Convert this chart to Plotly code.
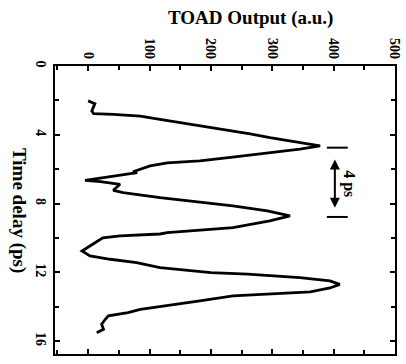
import plotly.graph_objects as go

# Time delay (ps) and TOAD output (a.u.)
time_ps = [2.03, 2.19, 2.62, 2.77, 2.81, 2.91, 3.10, 3.37, 3.66, 3.95, 4.17, 4.39, 4.65,
           4.83, 5.06, 5.29, 5.52, 5.64, 5.81, 6.01, 6.15, 6.20, 6.34, 6.45, 6.65,
           6.73, 6.88, 7.23, 7.37, 7.66, 7.91, 8.14, 8.43, 8.72,
           9.01, 9.40, 9.69, 9.77, 9.88, 9.99, 10.35, 10.76,
           11.05, 11.24, 11.44, 11.73, 12.02, 12.11, 12.31, 12.50, 12.70,
           12.91, 13.14, 13.28, 13.37, 13.66, 13.95, 14.15, 14.34, 14.53, 14.73,
           15.02, 15.31, 15.51]
toad_out = [0, 11, 6, 9, 41, 85, 117, 166, 215, 264, 296, 337, 378,
            345, 296, 239, 182, 129, 101, 85, 73, 80, 52, 36, -5,
            20, 52, 41, 57, 117, 182, 236, 292, 329,
            296, 236, 129, 117, 52, 24, 8, -10,
            3, 36, 79, 117, 200, 260, 345, 394, 410,
            394, 362, 296, 236, 182, 129, 85, 65, 33, 28,
            22, 25, 14]

x_ticks = [0, 100, 200, 300, 400, 500]
y_ticks = [0, 4, 8, 12, 16]

# "4 ps" marker annotation positions (data units)
marker_t = [4.75, 8.78]
marker_out = [389, 423]
arrow_out = 402
arrow_t = [5.35, 8.25]
label_text = "4 ps"

FONT = "Liberation Serif"

fig = go.Figure()
fig.add_trace(go.Scatter(x=toad_out, y=time_ps, mode="lines",
                         line=dict(color="black", width=2.8, shape="linear"),
                         showlegend=False, hoverinfo="skip"))

for t in marker_t:
    fig.add_shape(type="line", x0=marker_out[0], x1=marker_out[1], y0=t, y1=t,
                  xref="x", yref="y", line=dict(color="black", width=2))

fig.add_annotation(x=arrow_out, y=arrow_t[1], ax=arrow_out, ay=arrow_t[0],
                   xref="x", yref="y", axref="x", ayref="y", text="",
                   showarrow=True, arrowhead=2, arrowside="end+start",
                   arrowsize=1, arrowwidth=2, arrowcolor="black")
fig.add_annotation(x=426, y=6.85, xref="x", yref="y", text=label_text,
                   showarrow=False, textangle=90,
                   font=dict(family=FONT, size=16, color="black", weight="bold"))

fig.add_annotation(x=0.5, y=1, xref="paper", yref="paper", yshift=35, xshift=25,
                   yanchor="bottom", text="TOAD Output (a.u.)", showarrow=False,
                   font=dict(family=FONT, size=19, color="black", weight="bold"))
fig.add_annotation(x=0, y=0.5, xref="paper", yref="paper", xshift=-36,
                   xanchor="center", text="Time delay (ps)", showarrow=False,
                   textangle=90,
                   font=dict(family=FONT, size=19, color="black", weight="bold"))

axis_common = dict(showline=True, linecolor="black", linewidth=2, mirror="ticks",
                   ticks="inside", ticklen=5, tickwidth=2, tickcolor="black",
                   showgrid=False, zeroline=False, tickangle=90, automargin=False,
                   tickfont=dict(family=FONT, size=14, color="black", weight="bold"))

fig.update_layout(
    width=406, height=364,
    margin=dict(l=55, r=11, t=66, b=10),
    paper_bgcolor="white", plot_bgcolor="white",
    xaxis=dict(side="top", range=[-54, 500], tickvals=x_ticks,
               minor=dict(dtick=50, ticks="inside", ticklen=4, tickwidth=2,
                          tickcolor="black", tick0=0),
               **axis_common),
    yaxis=dict(range=[16.75, 0], tickvals=y_ticks,
               minor=dict(dtick=2, ticks="inside", ticklen=4, tickwidth=2,
                          tickcolor="black", tick0=0),
               **axis_common),
)

# remove the default 8px page margin so the figure fills the window exactly
fig.write_html("out.html",
               config={"displayModeBar": False},
               post_script="document.body.style.margin='0';"
                           "document.body.style.overflow='hidden';")
